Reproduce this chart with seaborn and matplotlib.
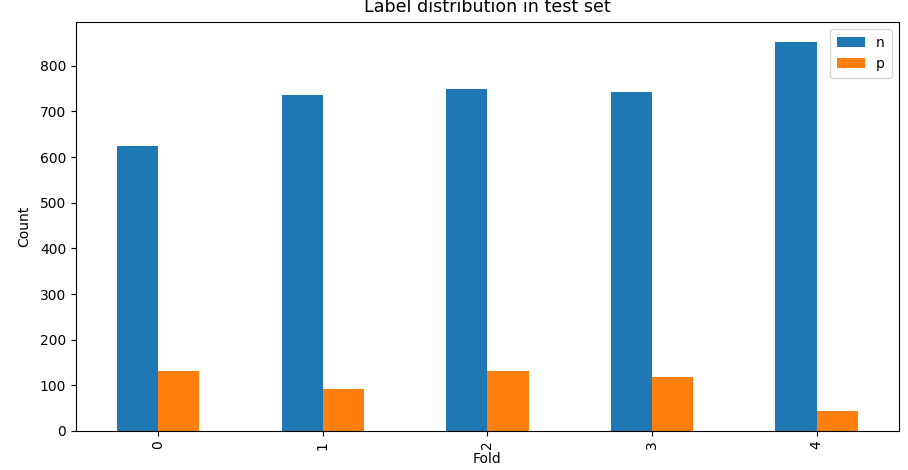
import pandas as pd
import matplotlib
matplotlib.use("Agg")
import matplotlib.pyplot as plt
import seaborn as sns

# Counts per fold
folds = ["0", "1", "2", "3", "4"]
n_counts = [625, 736, 748, 742, 853]
p_counts = [132, 92, 132, 118, 44]

df = pd.DataFrame({
    "Fold": folds * 2,
    "label": ["n"] * len(folds) + ["p"] * len(folds),
    "Count": n_counts + p_counts,
})

fig, ax = plt.subplots(figsize=(9.08, 4.70), dpi=100)
fig.subplots_adjust(left=0.0837, right=0.990, top=0.953, bottom=0.083)

sns.barplot(data=df, x="Fold", y="Count", hue="label",
            palette=["#1f77b4", "#ff7f0e"], saturation=1, width=0.5,
            ax=ax)

ax.set_xlim(-0.5, 4.5)
ax.set_ylim(0, max(n_counts) * 1.05)
ax.tick_params(axis="x", rotation=90)
ax.set_title("Label distribution in test set", fontsize=12.6, pad=7)
ax.set_xlabel("Fold", labelpad=2)
ax.set_ylabel("Count", labelpad=6)
sns.move_legend(ax, "upper right", title=None, borderpad=0.5)

fig.savefig("out.png", dpi=100)
